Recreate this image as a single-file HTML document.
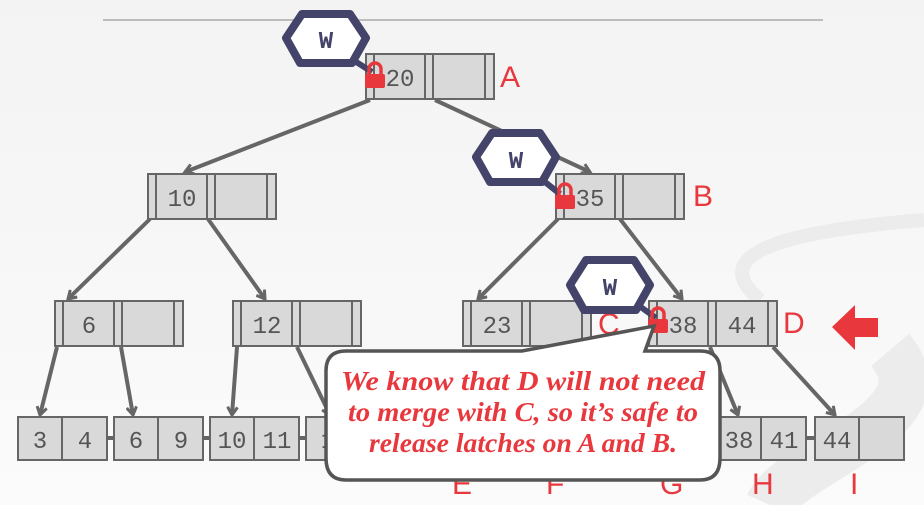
<!DOCTYPE html>
<html><head><meta charset="utf-8"><style>
html,body{margin:0;padding:0;width:924px;height:505px;overflow:hidden;background:#f6f6f6}
svg{display:block}
.k{font-family:"Liberation Mono",monospace;font-size:24px;fill:#555;text-anchor:middle}
.l{font-family:"Liberation Sans",sans-serif;font-size:30px;fill:#e8383d}
.c{fill:#d9d9d9;stroke:#666;stroke-width:2}
.e{stroke:#666;stroke-width:4;fill:none}
.h{fill:#fff;stroke:#44446a;stroke-width:8;stroke-linejoin:round}
.w{font-family:"Liberation Mono",monospace;font-weight:bold;font-size:24px;fill:#44446a;text-anchor:middle}
.t{font-family:"Liberation Serif",serif;font-weight:bold;font-style:italic;font-size:27px;fill:#e8383d;text-anchor:middle}
</style></head><body>
<svg width="924" height="505" viewBox="0 0 924 505">
<defs>
<linearGradient id="bg" x1="0" y1="0" x2="0" y2="1"><stop offset="0" stop-color="#f3f3f3"/><stop offset="1" stop-color="#fbfbfb"/></linearGradient>
<marker id="a" markerWidth="12" markerHeight="12" refX="9" refY="6" orient="auto" markerUnits="userSpaceOnUse"><path d="M1,1 L9,6 L1,11" fill="none" stroke="#666" stroke-width="3"/></marker>
<g id="in"><rect class="c" x="0" y="0" width="128" height="45"/><line x1="8" y1="0" x2="8" y2="45" stroke="#666" stroke-width="2"/><line x1="59" y1="0" x2="59" y2="45" stroke="#666" stroke-width="2"/><line x1="67" y1="0" x2="67" y2="45" stroke="#666" stroke-width="2"/><line x1="119" y1="0" x2="119" y2="45" stroke="#666" stroke-width="2"/></g>
<g id="lf"><rect class="c" x="0" y="0" width="44" height="43"/><rect class="c" x="44" y="0" width="45" height="43"/></g>
<g id="lk"><path d="M-6,-1 v-6 a6,6 0 0 1 12,0 v6" fill="none" stroke="#e8383d" stroke-width="3.5"/><rect x="-10" y="-2" width="20" height="14" rx="2" fill="#e8383d"/></g>
</defs>
<rect width="924" height="505" fill="url(#bg)"/>
<path d="M760,300 C700,250 800,230 924,220" stroke="#ececec" stroke-width="14" fill="none"/>
<path d="M890,350 C950,420 790,460 770,505" stroke="#ececec" stroke-width="50" fill="none"/>
<line x1="103" y1="20" x2="823" y2="20" stroke="#bdbdbd" stroke-width="2"/>

<line class="e" x1="370" y1="100" x2="185" y2="172" marker-end="url(#a)"/>
<line class="e" x1="435" y1="100" x2="590" y2="172" marker-end="url(#a)"/>
<line class="e" x1="150" y1="219" x2="68" y2="299" marker-end="url(#a)"/>
<line class="e" x1="208" y1="219" x2="265" y2="299" marker-end="url(#a)"/>
<line class="e" x1="558" y1="219" x2="478" y2="299" marker-end="url(#a)"/>
<line class="e" x1="620" y1="219" x2="682" y2="299" marker-end="url(#a)"/>
<line class="e" x1="57" y1="347" x2="40" y2="415" marker-end="url(#a)"/>
<line class="e" x1="121" y1="347" x2="133" y2="415" marker-end="url(#a)"/>
<line class="e" x1="237" y1="347" x2="232" y2="415" marker-end="url(#a)"/>
<line class="e" x1="297" y1="347" x2="330" y2="415" marker-end="url(#a)"/>
<line class="e" x1="710" y1="347" x2="738" y2="415" marker-end="url(#a)"/>
<line class="e" x1="773" y1="347" x2="835" y2="415" marker-end="url(#a)"/>
<line x1="107" y1="438" x2="815" y2="438" stroke="#666" stroke-width="4"/>

<use href="#in" x="366" y="54"/><text class="k" x="400" y="86">20</text>
<use href="#in" x="148" y="174"/><text class="k" x="182" y="206">10</text>
<use href="#in" x="556" y="174"/><text class="k" x="590" y="206">35</text>
<use href="#in" x="55" y="301"/><text class="k" x="89" y="333">6</text>
<use href="#in" x="233" y="301"/><text class="k" x="267" y="333">12</text>
<use href="#in" x="463" y="301"/><text class="k" x="497" y="333">23</text>
<use href="#in" x="649" y="301"/><text class="k" x="683" y="333">38</text><text class="k" x="742" y="333">44</text>

<use href="#lf" x="18" y="417"/><text class="k" x="40" y="448">3</text><text class="k" x="85" y="448">4</text>
<use href="#lf" x="114" y="417"/><text class="k" x="136" y="448">6</text><text class="k" x="181" y="448">9</text>
<use href="#lf" x="210" y="417"/><text class="k" x="232" y="448">10</text><text class="k" x="277" y="448">11</text>
<use href="#lf" x="306" y="417"/><text class="k" x="328" y="448">1</text>
<use href="#lf" x="717" y="417"/><text class="k" x="739" y="448">38</text><text class="k" x="784" y="448">41</text>
<use href="#lf" x="815" y="417"/><text class="k" x="837" y="448">44</text>

<text class="l" x="500" y="87">A</text>
<text class="l" x="693" y="206">B</text>
<text class="l" x="598" y="334">C</text>
<text class="l" x="783" y="333">D</text>
<text class="l" x="452" y="494">E</text>
<text class="l" x="546" y="494">F</text>
<text class="l" x="660" y="494">G</text>
<text class="l" x="752" y="494">H</text>
<text class="l" x="850" y="494">I</text>
<path d="M832,327 L855,305 V318 H878 V337 H855 V350 Z" fill="#e8383d"/>

<line x1="350" y1="58" x2="372" y2="72" stroke="#44446a" stroke-width="6"/>
<path class="h" d="M302,14 H350 L366,38 L352,63 H300 L286,38 Z"/><text class="w" x="326" y="48">W</text>
<use href="#lk" x="375" y="76"/>
<line x1="540" y1="178" x2="560" y2="194" stroke="#44446a" stroke-width="6"/>
<path class="h" d="M492,133 H540 L556,157 L542,182 H490 L476,157 Z"/><text class="w" x="516" y="168">W</text>
<use href="#lk" x="565" y="197"/>
<line x1="638" y1="305" x2="656" y2="318" stroke="#44446a" stroke-width="6"/>
<path class="h" d="M586,260 H634 L650,285 L636,310 H584 L570,285 Z"/><text class="w" x="610" y="295">W</text>
<use href="#lk" x="658" y="321"/>

<path d="M346,351 H522 L654,326 L645,351 H700 Q720,351 720,371 V458 Q720,480 700,480 H346 Q326,480 326,458 V371 Q326,351 346,351 Z" fill="#fff" stroke="#555" stroke-width="3.5"/>
<text class="t" x="523" y="390" textLength="364" lengthAdjust="spacingAndGlyphs">We know that D will not need</text>
<text class="t" x="523" y="421" textLength="350" lengthAdjust="spacingAndGlyphs">to merge with C, so it’s safe to</text>
<text class="t" x="523" y="452" textLength="308" lengthAdjust="spacingAndGlyphs">release latches on A and B.</text>
</svg>
</body></html>
